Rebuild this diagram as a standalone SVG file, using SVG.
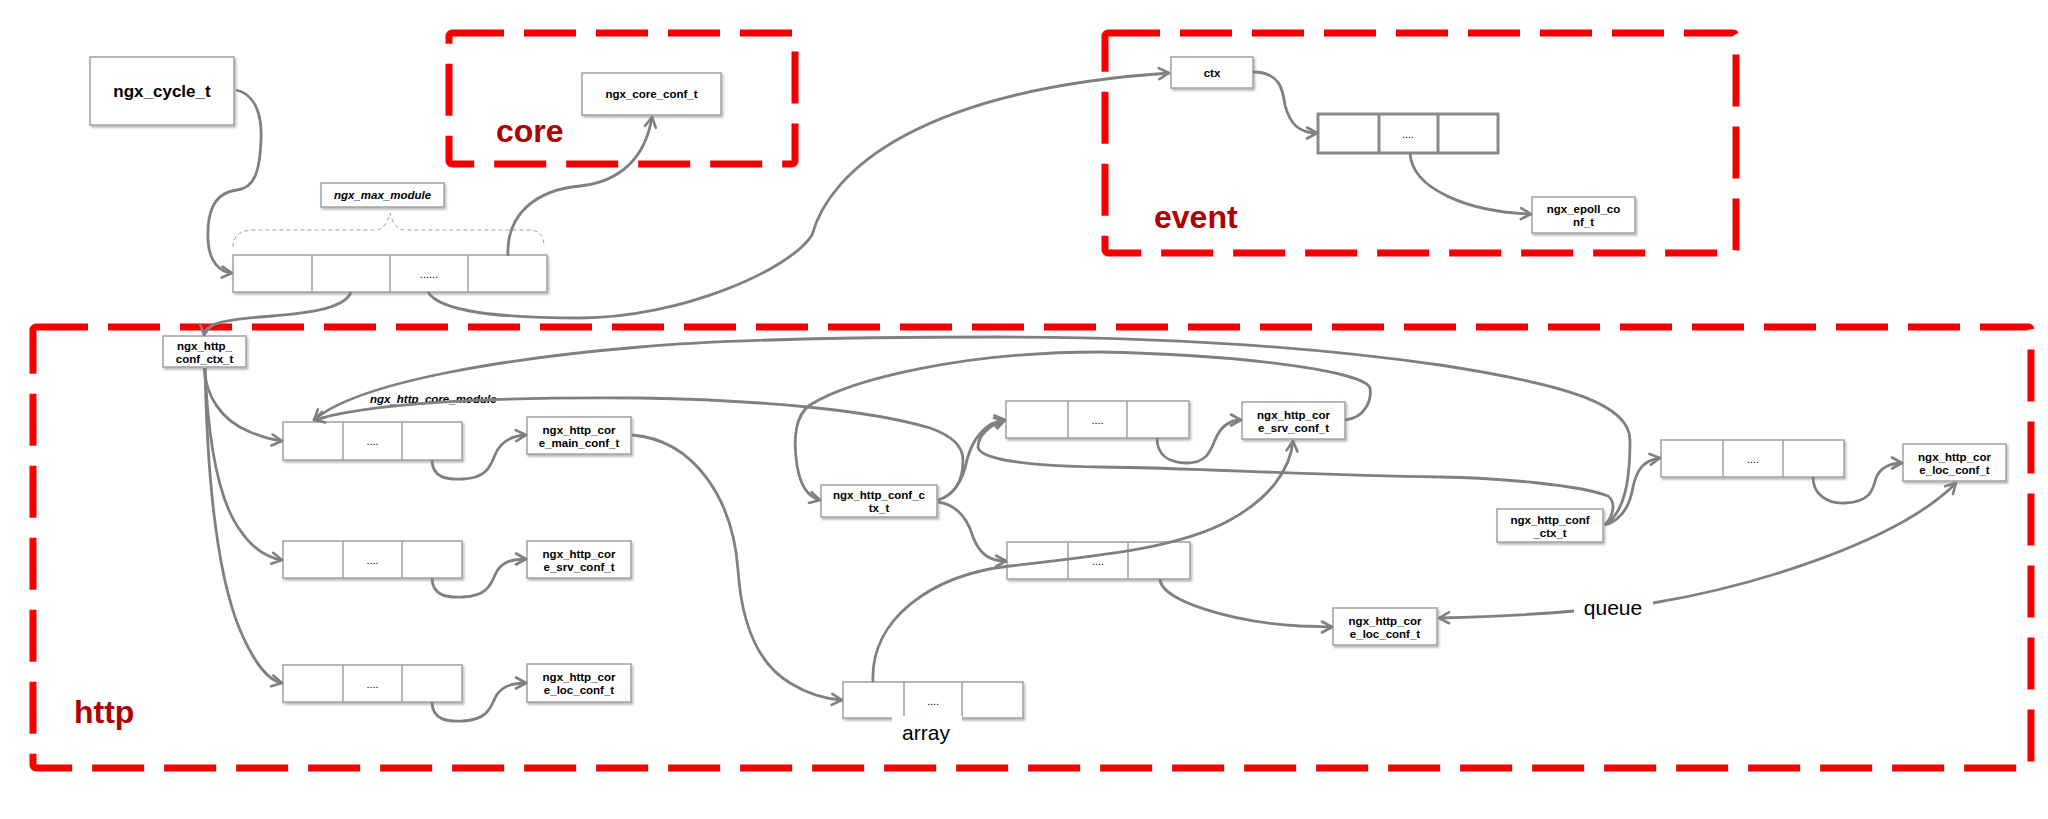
<svg xmlns="http://www.w3.org/2000/svg" width="2048" height="819" viewBox="0 0 2048 819">
<defs>
<filter id="sh" x="-10%" y="-20%" width="130%" height="150%">
<feDropShadow dx="1.5" dy="2" stdDeviation="1.2" flood-color="#000" flood-opacity="0.28"/>
</filter>
<marker id="ah" viewBox="0 0 14 14" refX="12" refY="7" markerWidth="14" markerHeight="14" markerUnits="userSpaceOnUse" orient="auto">
<path d="M2,1.5 L12,7 L2,12.5" fill="none" stroke="#808080" stroke-width="2.6" stroke-linecap="round" stroke-linejoin="round"/>
</marker>
</defs>
<style>
.box{fill:#fff;stroke:#a0a0a0;stroke-width:1.5;filter:url(#sh)}
.div{stroke:#a0a0a0;stroke-width:1.5}
.earr{fill:#fff;stroke:#8a8a8a;stroke-width:3}
.ediv{stroke:#8a8a8a;stroke-width:3}
.lbl{font-family:"Liberation Sans",Arial,sans-serif;font-weight:bold;font-size:11.5px;text-anchor:middle;fill:#000}
.dots{font-family:"Liberation Sans",Arial,sans-serif;font-size:11px;text-anchor:middle;fill:#000}
.big{font-family:"Liberation Sans",Arial,sans-serif;font-weight:bold;font-size:17px;text-anchor:middle;fill:#000}
.ital{font-family:"Liberation Sans",Arial,sans-serif;font-weight:bold;font-style:italic;font-size:11.5px;fill:#000}
.plain{font-family:"Liberation Sans",Arial,sans-serif;font-size:21px;text-anchor:middle;fill:#000}
.zone{fill:none;stroke:#f40000;stroke-width:7;stroke-dasharray:52 20}
.zlbl{font-family:"Liberation Sans",Arial,sans-serif;font-weight:bold;font-size:32px;fill:#b00000}
.conn{fill:none;stroke:#808080;stroke-width:2.8;marker-end:url(#ah)}
.plainconn{fill:none;stroke:#808080;stroke-width:2.8}
.brace{fill:none;stroke:#a0a0a0;stroke-width:1;stroke-dasharray:4 3}
</style>
<rect width="2048" height="819" fill="#fff"/>

<g id="zone-core">
<rect class="zone" x="449" y="33" width="346" height="131" rx="3"/>
<text class="zlbl" x="496" y="142">core</text>
</g>
<g id="zone-event">
<rect class="zone" x="1105" y="33" width="631" height="220" rx="3"/>
<text class="zlbl" x="1154" y="228">event</text>
</g>
<g id="zone-http">
<rect class="zone" x="33" y="327" width="1998" height="441" rx="3"/>
<text class="zlbl" x="74" y="723">http</text>
</g>

<g id="ngx_cycle_t">
<rect class="box" x="90" y="57" width="144" height="68"/>
<text class="big" x="162" y="97">ngx_cycle_t</text>
</g>
<g id="ngx_max_module">
<rect class="box" x="321" y="183" width="123" height="24"/>
<text class="ital" x="382.5" y="199" text-anchor="middle">ngx_max_module</text>
<path class="brace" d="M233,247 C233,236 240,230 255,230 L375,230 C385,230 388,220 390,213 C392,220 395,230 405,230 L528,230 C540,230 544,236 544,247"/>
</g>
<g id="modules-array">
<rect class="box" x="233" y="255" width="314" height="37"/>
<line class="div" x1="312" y1="255" x2="312" y2="292"/>
<line class="div" x1="390" y1="255" x2="390" y2="292"/>
<line class="div" x1="468" y1="255" x2="468" y2="292"/>
<text class="dots" x="429" y="278">......</text>
</g>
<g id="ngx_core_conf_t">
<rect class="box" x="582" y="73" width="139" height="42"/>
<text class="lbl" x="651.5" y="98">ngx_core_conf_t</text>
</g>

<g id="ctx">
<rect class="box" x="1171" y="57" width="82" height="31"/>
<text class="lbl" x="1212" y="77">ctx</text>
</g>
<g id="event-array">
<rect class="earr" x="1318" y="114" width="180" height="39"/>
<line class="ediv" x1="1379" y1="114" x2="1379" y2="153"/>
<line class="ediv" x1="1438" y1="114" x2="1438" y2="153"/>
<text class="dots" x="1408" y="138">....</text>
</g>
<g id="ngx_epoll_conf_t">
<rect class="box" x="1532" y="197" width="103" height="36"/>
<text class="lbl" x="1583.5" y="213">ngx_epoll_co</text>
<text class="lbl" x="1583.5" y="226">nf_t</text>
</g>

<g id="http-conf-ctx-left">
<rect class="box" x="163" y="336" width="83" height="31"/>
<text class="lbl" x="204.5" y="349.5">ngx_http_</text>
<text class="lbl" x="204.5" y="362.5">conf_ctx_t</text>
</g>
<g id="main-conf-array">
<rect class="box" x="283" y="422" width="179" height="38"/>
<line class="div" x1="343" y1="422" x2="343" y2="460"/>
<line class="div" x1="402" y1="422" x2="402" y2="460"/>
<text class="dots" x="372.5" y="445">....</text>
</g>
<g id="srv-conf-array">
<rect class="box" x="283" y="541" width="179" height="37"/>
<line class="div" x1="343" y1="541" x2="343" y2="578"/>
<line class="div" x1="402" y1="541" x2="402" y2="578"/>
<text class="dots" x="372.5" y="564">....</text>
</g>
<g id="loc-conf-array">
<rect class="box" x="283" y="665" width="179" height="37"/>
<line class="div" x1="343" y1="665" x2="343" y2="702"/>
<line class="div" x1="402" y1="665" x2="402" y2="702"/>
<text class="dots" x="372.5" y="688">....</text>
</g>
<g id="core-main-conf">
<rect class="box" x="527" y="417" width="104" height="37"/>
<text class="lbl" x="579" y="433.5">ngx_http_cor</text>
<text class="lbl" x="579" y="446.5">e_main_conf_t</text>
</g>
<g id="core-srv-conf-left">
<rect class="box" x="527" y="541" width="104" height="37"/>
<text class="lbl" x="579" y="557.5">ngx_http_cor</text>
<text class="lbl" x="579" y="570.5">e_srv_conf_t</text>
</g>
<g id="core-loc-conf-left">
<rect class="box" x="527" y="664" width="104" height="38"/>
<text class="lbl" x="579" y="681">ngx_http_cor</text>
<text class="lbl" x="579" y="694">e_loc_conf_t</text>
</g>
<g id="core-module-label">
<text class="ital" x="370" y="403">ngx_http_core_module</text>
</g>

<g id="http-conf-ctx-mid">
<rect class="box" x="821" y="485" width="116" height="32"/>
<text class="lbl" x="879" y="499">ngx_http_conf_c</text>
<text class="lbl" x="879" y="512">tx_t</text>
</g>
<g id="srv-array-mid">
<rect class="box" x="1006" y="401" width="183" height="37"/>
<line class="div" x1="1068" y1="401" x2="1068" y2="438"/>
<line class="div" x1="1127" y1="401" x2="1127" y2="438"/>
<text class="dots" x="1097.5" y="424">....</text>
</g>
<g id="loc-array-mid">
<rect class="box" x="1007" y="542" width="183" height="37"/>
<line class="div" x1="1068" y1="542" x2="1068" y2="579"/>
<line class="div" x1="1128" y1="542" x2="1128" y2="579"/>
<text class="dots" x="1098" y="565">....</text>
</g>
<g id="core-srv-conf-top">
<rect class="box" x="1242" y="402" width="103" height="37"/>
<text class="lbl" x="1293.5" y="418.5">ngx_http_cor</text>
<text class="lbl" x="1293.5" y="431.5">e_srv_conf_t</text>
</g>
<g id="servers-array">
<rect class="box" x="843" y="682" width="180" height="36"/>
<line class="div" x1="904" y1="682" x2="904" y2="718"/>
<line class="div" x1="962" y1="682" x2="962" y2="718"/>
<text class="dots" x="933" y="705">....</text>
</g>
<g id="core-loc-conf-mid">
<rect class="box" x="1333" y="608" width="104" height="37"/>
<text class="lbl" x="1385" y="624.5">ngx_http_cor</text>
<text class="lbl" x="1385" y="637.5">e_loc_conf_t</text>
</g>
<g id="http-conf-ctx-right">
<rect class="box" x="1497" y="509" width="106" height="33"/>
<text class="lbl" x="1550" y="523.5">ngx_http_conf</text>
<text class="lbl" x="1550" y="536.5">_ctx_t</text>
</g>
<g id="loc-array-right">
<rect class="box" x="1661" y="440" width="183" height="37"/>
<line class="div" x1="1723" y1="440" x2="1723" y2="477"/>
<line class="div" x1="1783" y1="440" x2="1783" y2="477"/>
<text class="dots" x="1753" y="463">....</text>
</g>
<g id="core-loc-conf-right">
<rect class="box" x="1903" y="444" width="103" height="37"/>
<text class="lbl" x="1954.5" y="460.5">ngx_http_cor</text>
<text class="lbl" x="1954.5" y="473.5">e_loc_conf_t</text>
</g>

<g id="connectors">
<path class="conn" d="M236,90 C258,95 262,120 261,140 C260,170 255,188 237,190 C212,193 207,215 208,240 C209,262 220,272 232,273"/>
<path class="conn" d="M508,256 C506,215 535,190 580,186 C618,182 645,160 652,117"/>
<path class="conn" d="M351,292 C345,310 300,314 260,317 C225,320 206,323 204,335"/>
<path class="conn" d="M428,292 C440,312 500,318 580,318 C680,318 790,270 812,235 C830,170 920,90 1169,73"/>
<path class="conn" d="M1253,72 C1280,72 1283,90 1285,105 C1290,125 1300,133 1317,133"/>
<path class="conn" d="M1410,153 C1412,190 1470,212 1531,214"/>
<path class="conn" d="M204,368 C206,395 220,420 250,432 C262,437 272,440 282,441"/>
<path class="conn" d="M205,368 C208,440 218,500 240,530 C252,548 265,557 282,560"/>
<path class="conn" d="M205,368 C207,470 215,570 240,630 C255,665 268,680 282,683"/>
<path class="conn" d="M432,460 C432,478 448,480 463,479 C485,478 490,468 495,455 C500,442 510,436 526,435"/>
<path class="conn" d="M432,578 C432,596 448,598 463,597 C485,596 490,587 495,575 C500,563 510,559 526,559"/>
<path class="conn" d="M432,702 C432,720 448,722 463,721 C485,720 490,710 495,698 C500,687 510,683 526,683"/>
<path class="conn" d="M632,435 C695,440 733,500 738,570 C742,630 760,665 790,683 C808,694 825,699 842,700"/>
<path class="conn" d="M1605,525 C1625,512 1630,480 1630,440 C1630,405 1570,385 1440,365 C1300,345 1150,337 1000,337 C850,337 720,340 640,347 C520,357 360,380 314,420"/>
<path class="conn" d="M938,500 C955,495 963,480 963,460 C963,445 950,435 930,428 C870,410 760,400 640,398 C520,397 380,400 314,420"/>
<path class="conn" d="M1345,420 C1365,418 1372,400 1370,388 C1365,372 1250,355 1100,352 C960,352 850,380 810,405 C795,415 793,440 797,465 C800,485 808,497 820,500"/>
<path class="conn" d="M938,500 C955,495 963,480 967,460 C972,440 985,422 1005,420"/>
<path class="conn" d="M938,502 C958,505 968,520 973,537 C980,555 990,561 1006,561"/>
<path class="conn" d="M1605,525 C1614,515 1616,502 1608,496 C1580,485 1500,478 1440,477 C1300,475 1200,468 1100,467 C1030,466 980,460 978,447 C978,435 990,425 1005,420"/>
<path class="conn" d="M1157,438 C1157,456 1170,463 1187,463 C1205,463 1210,453 1215,440 C1220,428 1228,420 1241,420"/>
<path class="conn" d="M873,682 C870,620 930,575 1010,566 C1100,556 1180,548 1230,520 C1270,498 1290,470 1293,441"/>
<path class="conn" d="M1160,579 C1160,600 1230,622 1300,626 C1315,626 1325,627 1332,627"/>
<path class="conn" d="M1605,525 C1622,520 1630,505 1633,487 C1637,468 1645,460 1660,458"/>
<path class="conn" d="M1813,477 C1813,495 1828,504 1845,503 C1870,502 1873,490 1876,478 C1880,468 1890,463 1902,463"/>
<path class="conn" d="M1574,611 C1530,615 1480,617 1439,618"/>
<path class="conn" d="M1653,603 C1760,585 1900,540 1956,483"/>
</g>

<g id="label-array">
<rect x="892" y="716" width="70" height="30" fill="#fff"/>
<text class="plain" x="926" y="740">array</text>
</g>
<g id="label-queue">
<text class="plain" x="1613" y="615">queue</text>
</g>
</svg>
